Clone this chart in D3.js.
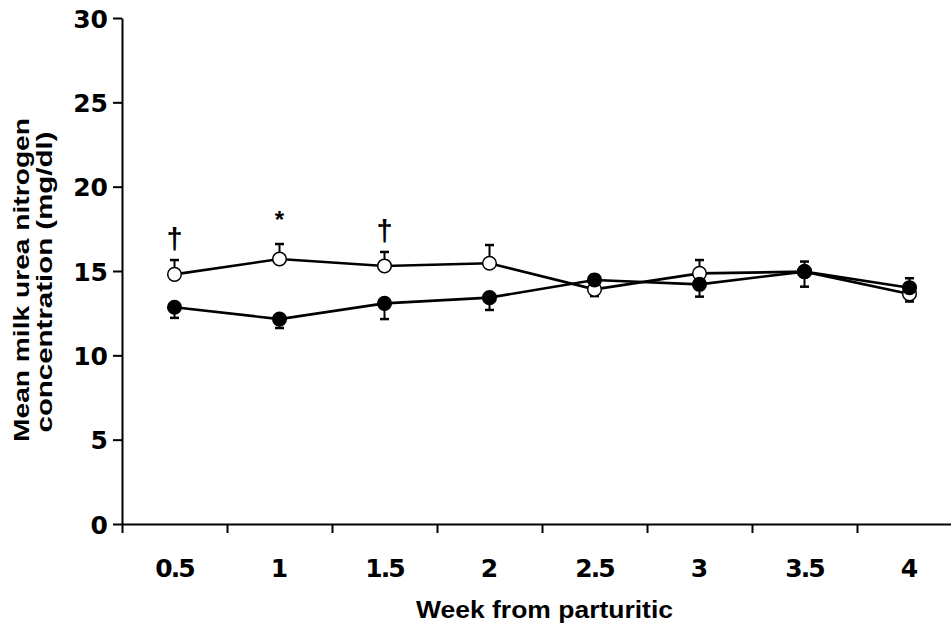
<!DOCTYPE html>
<html>
<head>
<meta charset="utf-8">
<script src="https://cdn.jsdelivr.net/npm/d3@7"></script>
<style>
  body { margin: 0; background: #fff; }
  svg { display: block; }
</style>
</head>
<body>
<script>
const wSvg = 951, hSvg = 625;

// data
const weeks = ["0.5", "1", "1.5", "2", "2.5", "3", "3.5", "4"];
const openMeans = [14.80, 15.71, 15.30, 15.46, 13.91, 14.86, 14.96, 13.64];
const openErr = [0.85, 0.89, 0.83, 1.08, -0.40, 0.79, 0.60, -0.45];   // sign = bar direction
const filledMeans = [12.85, 12.15, 13.08, 13.42, 14.47, 14.21, 14.96, 14.01];
const filledErr = [-0.63, -0.53, -0.93, -0.73, 0.30, -0.73, -0.89, 0.56];
const yTicks = [0, 5, 10, 15, 20, 25, 30];
const marks = ["†", "*", "†"];
const markWeeks = ["0.5", "1", "1.5"];

const svg = d3.select("body").append("svg")
    .attr("width", wSvg)
    .attr("height", hSvg);

let x = d3.scaleBand()
    .domain(weeks)
    .range([122, 962]);

let xEdges = d3.scaleLinear()
    .domain([0, weeks.length])
    .range([122, 962]);

let y = d3.scaleLinear()
    .domain([0, 30])
    .range([524, 18]);

const tickFont = "'DejaVu Sans', Verdana, sans-serif";
const labelFont = "'Liberation Sans', Arial, sans-serif";

// y axis
let gY = svg.append("g")
    .attr("transform", "translate(122,0)")
    .call(d3.axisLeft(y).tickValues(yTicks).tickSize(9).tickSizeOuter(0).tickPadding(5))
gY.selectAll("path, line").attr("stroke", "#000").attr("stroke-width", 2)
gY.selectAll("text")
    .attr("dy", "0.36em")
    .style("font-family", tickFont)
    .style("font-weight", "bold")
    .style("font-size", "25px")
    .attr("fill", "#000")

// x axis: boundary ticks + centred labels
let gXticks = svg.append("g")
    .attr("transform", "translate(0,524)")
    .call(d3.axisBottom(xEdges).tickValues(d3.range(0, weeks.length + 1)).tickSize(9).tickSizeOuter(0).tickFormat(""))
gXticks.selectAll("path, line").attr("stroke", "#000").attr("stroke-width", 2)

let gX = svg.append("g")
    .attr("transform", "translate(0,524)")
    .call(d3.axisBottom(x).tickSize(0))
gX.select("path").remove()
gX.selectAll("text")
    .attr("y", 53)
    .attr("dy", 0)
    .style("font-family", tickFont)
    .style("font-weight", "bold")
    .style("font-size", "25px")
    .style("letter-spacing", d => d.includes(".") ? "-2px" : null)
    .attr("fill", "#000")

// axis titles
svg.append("text")
    .attr("x", 416)
    .attr("y", 618)
    .attr("textLength", 257)
    .attr("lengthAdjust", "spacingAndGlyphs")
    .style("font-family", labelFont)
    .style("font-weight", "bold")
    .style("font-size", "23px")
    .text("Week from parturitic")

let yTitle = [["Mean milk urea nitrogen", 29, 280, 324], ["concentration (mg/dl)", 52, 282, 301]];
yTitle.forEach(t => {
    svg.append("text")
        .attr("transform", `translate(${t[1]},${t[2]}) rotate(-90)`)
        .attr("text-anchor", "middle")
        .attr("textLength", t[3])
        .attr("lengthAdjust", "spacingAndGlyphs")
        .style("font-family", labelFont)
        .style("font-weight", "bold")
        .style("font-size", "22px")
        .text(t[0])
})

let cx = d => x(d) + x.bandwidth() / 2;

function drawSeries(means, errs, fill) {
    let g = svg.append("g");
    let pts = weeks.map((w, i) => ({ w: w, v: means[i], e: errs[i] }));

    g.append("path")
        .datum(pts)
        .attr("fill", "none")
        .attr("stroke", "#000")
        .attr("stroke-width", 2.6)
        .attr("d", d3.line().x(d => cx(d.w)).y(d => y(d.v)));

    g.selectAll(".stem")
        .data(pts)
        .enter()
        .append("line")
        .attr("x1", d => cx(d.w)).attr("x2", d => cx(d.w))
        .attr("y1", d => y(d.v)).attr("y2", d => y(d.v + d.e))
        .attr("stroke", "#000").attr("stroke-width", 2);

    g.selectAll(".cap")
        .data(pts)
        .enter()
        .append("line")
        .attr("x1", d => cx(d.w) - 4.5).attr("x2", d => cx(d.w) + 4.5)
        .attr("y1", d => y(d.v + d.e)).attr("y2", d => y(d.v + d.e))
        .attr("stroke", "#000").attr("stroke-width", 2.5);

    g.selectAll("circle")
        .data(pts)
        .enter()
        .append("circle")
        .attr("cx", d => cx(d.w))
        .attr("cy", d => y(d.v))
        .attr("r", 6.8)
        .attr("fill", fill)
        .attr("stroke", "#000")
        .attr("stroke-width", 1.5);
}

drawSeries(openMeans, openErr, "#fff");
drawSeries(filledMeans, filledErr, "#000");

// significance marks above the open series
svg.selectAll(".mark")
    .data(markWeeks)
    .enter()
    .append("text")
    .attr("x", d => cx(d))
    .attr("y", d => {
        let i = weeks.indexOf(d);
        return y(openMeans[i] + openErr[i]) - (d === "1" ? 16 : 11);
    })
    .attr("text-anchor", "middle")
    .style("font-family", labelFont)
    .style("font-weight", "bold")
    .style("font-size", (d, i) => marks[i] === "†" ? "29px" : "24px")
    .text((d, i) => marks[i])
</script>
</body>
</html>
